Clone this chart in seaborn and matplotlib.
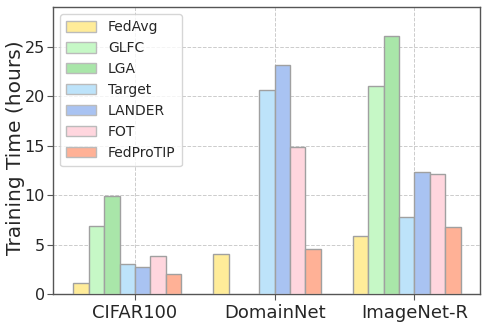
import matplotlib
matplotlib.use("Agg")
import matplotlib.pyplot as plt
import matplotlib.patches as mpatches
import numpy as np
import pandas as pd
import seaborn as sns

datasets = ["CIFAR100", "DomainNet", "ImageNet-R"]
methods = ["FedAvg", "GLFC", "LGA", "Target", "LANDER", "FOT", "FedProTIP"]
fedavg = [1.1, 4.0, 5.9]
glfc = [6.9, np.nan, 21.0]
lga = [9.9, np.nan, 26.1]
target = [3.0, 20.6, 7.8]
lander = [2.7, 23.2, 12.3]
fot = [3.8, 14.9, 12.1]
fedprotip = [2.0, 4.6, 6.8]
colors = ["#FFEC99", "#C6F8C6", "#A9E6A9", "#BDE3FA", "#A9C3F2", "#FFD6DE", "#FFB196"]

series = [fedavg, glfc, lga, target, lander, fot, fedprotip]
rows = []
for m, vals in zip(methods, series):
    for d, v in zip(datasets, vals):
        rows.append({"Dataset": d, "Method": m, "Time": v})
df = pd.DataFrame(rows).dropna()

sns.set_style("ticks")
plt.rcParams["font.family"] = ["DejaVu Sans"]

fig = plt.figure(figsize=(4.88, 3.26), dpi=100)
ax = fig.add_axes([0.109, 0.098, 0.875, 0.880])

spacer = " "
hue_order = methods + [spacer]
palette = dict(zip(methods, colors))
palette[spacer] = "#FFFFFF"

sns.barplot(data=df, x="Dataset", y="Time", hue="Method", hue_order=hue_order,
            order=datasets, palette=palette, saturation=1, width=0.88, gap=0,
            edgecolor="#A0A0A0", linewidth=1.0, errorbar=None,
            legend=False, ax=ax, zorder=3)

ax.set_xlim(-0.585, 2.47)
ax.set_ylim(0, 29)
ax.set_yticks([0, 5, 10, 15, 20, 25])
ax.set_xlabel("")
ax.set_ylabel("Training Time (hours)", fontsize=14.5)
ax.yaxis.set_label_coords(-0.066, 0.51)
ax.tick_params(axis="y", labelsize=11.5, length=4, pad=2, color="#555555")
ax.tick_params(axis="x", labelsize=13, length=4, color="#555555")
ax.grid(True, linestyle="--", linewidth=0.7, color="#CCCCCC", zorder=0)
ax.set_axisbelow(True)
for s in ax.spines.values():
    s.set_color("#555555")
    s.set_linewidth(1.0)

handles = [mpatches.Patch(facecolor=c, edgecolor="#BBBBBB", label=m)
           for m, c in zip(methods, colors)]
leg = ax.legend(handles=handles, loc="upper left", fontsize=10,
                frameon=True, handlelength=2.1, handleheight=0.75,
                borderpad=0.45, labelspacing=0.5, handletextpad=0.9,
                bbox_to_anchor=(0.0, 1.0))
leg.get_frame().set_edgecolor("#CCCCCC")

fig.savefig("out.png", dpi=100)
